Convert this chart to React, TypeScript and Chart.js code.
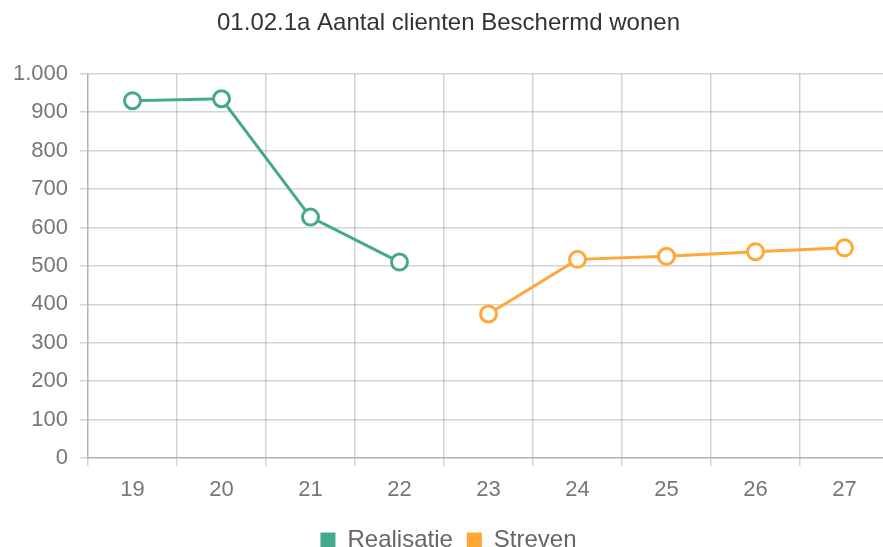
import React, { useEffect, useRef } from "react";
import { Chart, registerables } from "chart.js";

Chart.register(...registerables);

const titleText = "01.02.1a Aantal clienten Beschermd wonen";
const categories = ["19", "20", "21", "22", "23", "24", "25", "26", "27"];
const realisatie: (number | null)[] = [930, 935, 627, 510, null, null, null, null, null];
const streven: (number | null)[] = [null, null, null, null, 375, 517, 525, 537, 547];
const yMin = 0;
const yMax = 1000;
const yStep = 100;

const GREEN = "#46a98b";
const ORANGE = "#ffa836";
const FONT = "'Liberation Sans', Arial, sans-serif";

function formatNl(v: number): string {
  return String(Math.round(v)).replace(/\B(?=(\d{3})+(?!\d))/g, ".");
}

export default function App() {
  const ref = useRef<HTMLCanvasElement | null>(null);

  useEffect(() => {
    if (!ref.current) return;
    const chart = new Chart(ref.current, {
      type: "line",
      data: {
        labels: categories,
        datasets: [
          {
            label: "Realisatie",
            data: realisatie,
            borderColor: GREEN,
            backgroundColor: GREEN,
            pointBackgroundColor: "#ffffff",
            pointBorderColor: GREEN,
            borderWidth: 3,
            pointRadius: 8,
            pointBorderWidth: 3,
            tension: 0,
            spanGaps: false,
          },
          {
            label: "Streven",
            data: streven,
            borderColor: ORANGE,
            backgroundColor: ORANGE,
            pointBackgroundColor: "#ffffff",
            pointBorderColor: ORANGE,
            borderWidth: 3,
            pointRadius: 8,
            pointBorderWidth: 3,
            tension: 0,
            spanGaps: false,
          },
        ],
      },
      options: {
        responsive: false,
        animation: false,
        devicePixelRatio: 1,
        layout: { autoPadding: false, padding: { left: 0, right: 3, top: 0, bottom: 0 } },
        plugins: {
          title: {
            display: true,
            text: titleText,
            color: "#333333",
            font: { family: FONT, size: 24, weight: "normal" },
            padding: { top: 1, bottom: 36 },
          },
          legend: {
            position: "bottom",
            labels: {
              boxWidth: 15,
              boxHeight: 15,
              color: "#666666",
              font: { family: FONT, size: 24 },
              padding: 14,
              generateLabels: (c: any) =>
                c.data.datasets.map((ds: any, i: number) => ({
                  text: ds.label,
                  fillStyle: ds.borderColor,
                  strokeStyle: ds.borderColor,
                  lineWidth: 0,
                  hidden: !c.isDatasetVisible(i),
                  datasetIndex: i,
                  fontColor: "#666666",
                })),
            },
          },
          tooltip: { enabled: false },
        },
        scales: {
          x: {
            offset: true,
            grid: {
              offset: true,
              color: "rgba(0,0,0,0.17)",
              lineWidth: 1.5,
              tickLength: 8,
            },
            border: { color: "rgba(0,0,0,0.17)", width: 1.5 },
            ticks: {
              color: "#777777",
              font: { family: FONT, size: 22 },
              padding: 11,
              maxRotation: 0,
            },
            afterFit: (s: any) => {
              s.height = 56;
              s.paddingRight = 0;
              s.paddingLeft = 0;
            },
          },
          y: {
            min: yMin,
            max: yMax,
            grid: {
              color: "rgba(0,0,0,0.17)",
              lineWidth: 1.5,
              tickLength: 8,
            },
            border: { color: "rgba(0,0,0,0.17)", width: 1.5 },
            ticks: {
              stepSize: yStep,
              color: "#777777",
              font: { family: FONT, size: 22 },
              padding: 12,
              callback: (v: any) => formatNl(Number(v)),
            },
            afterFit: (s: any) => {
              s.width = 80;
            },
          },
        },
      },
    });
    return () => chart.destroy();
  }, []);

  return (
    <div
      style={{
        position: "fixed",
        left: 0,
        top: 0,
        width: 883,
        height: 547,
        overflow: "hidden",
        background: "#ffffff",
      }}
    >
      <canvas
        ref={ref}
        width={884}
        height={554}
        style={{ position: "absolute", left: 8, top: 8, width: 884, height: 554 }}
      />
    </div>
  );
}
